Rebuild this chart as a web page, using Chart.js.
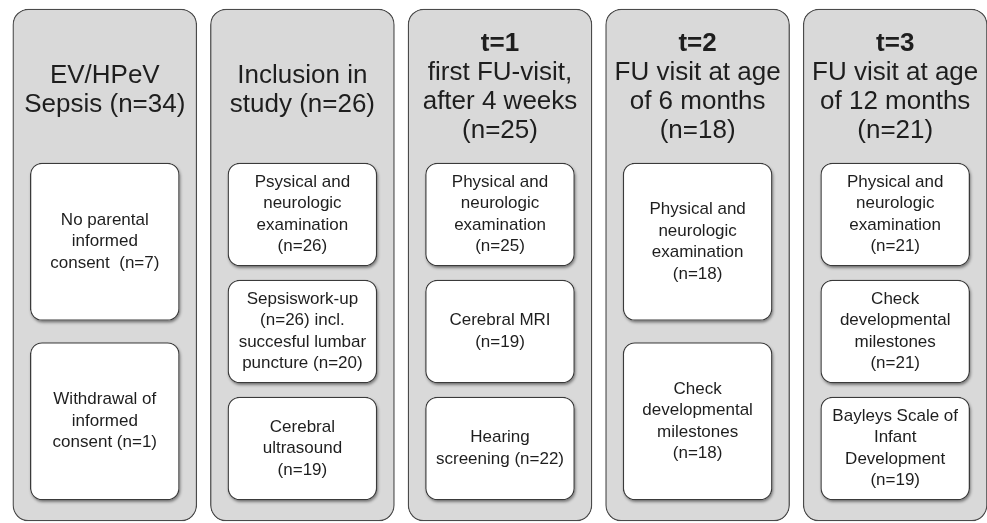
<!DOCTYPE html>
<html>
<head>
<meta charset="utf-8">
<script src="https://cdn.jsdelivr.net/npm/chart.js@4"></script>
<style>
  html, body { margin: 0; padding: 0; background: #fff; overflow: hidden; }
  #wrap { width: 994px; height: 523px; position: relative; }
</style>
</head>
<body>
<div id="wrap"><canvas id="flowChart"></canvas></div>
<script>
// stages of the study (one column each)
const stages = ['Sepsis', 'Inclusion', 't=1', 't=2', 't=3'];
const stageTitles = [null, null, 't=1', 't=2', 't=3'];
const stageHeaders = [
    ['EV/HPeV', 'Sepsis (n=34)'],
    ['Inclusion in', 'study (n=26)'],
    ['first FU-visit,', 'after 4 weeks', '(n=25)'],
    ['FU visit at age', 'of 6 months', '(n=18)'],
    ['FU visit at age', 'of 12 months', '(n=21)']
];
// boxes inside every column, top to bottom
const stageBoxes = [
    [['No parental', 'informed', 'consent  (n=7)'], ['Withdrawal of', 'informed', 'consent (n=1)']],
    [['Psysical and', 'neurologic', 'examination', '(n=26)'], ['Sepsiswork-up', '(n=26) incl.', 'succesful lumbar', 'puncture (n=20)'], ['Cerebral', 'ultrasound', '(n=19)']],
    [['Physical and', 'neurologic', 'examination', '(n=25)'], ['Cerebral MRI', '(n=19)'], ['Hearing', 'screening (n=22)']],
    [['Physical and', 'neurologic', 'examination', '(n=18)'], ['Check', 'developmental', 'milestones', '(n=18)']],
    [['Physical and', 'neurologic', 'examination', '(n=21)'], ['Check', 'developmental', 'milestones', '(n=21)'], ['Bayleys Scale of', 'Infant', 'Development', '(n=19)']]
];

const FONT = '"Liberation Sans", Arial, Helvetica, sans-serif';

// floating bar ranges (y axis runs in pixels, top = 0)
const outerRange = stages.map(() => [9, 521]);
function boxRanges(slot) {
    return stageBoxes.map(boxes => {
        if (slot >= boxes.length) return null;
        const top = 163, bottom = 500;
        const gap = boxes.length === 3 ? 14 : 22;
        const h = (bottom - top - gap * (boxes.length - 1)) / boxes.length;
        const y0 = top + slot * (h + gap);
        return [y0, y0 + h];
    });
}

const innerStyle = {
    backgroundColor: '#ffffff',
    borderColor: '#3a3a3a',
    borderWidth: 1.3,
    borderRadius: 12,
    borderSkipped: false,
    barThickness: 149,
    grouped: false
};

const textPlugin = {
    id: 'boxText',
    // soft drop shadow under the white boxes (bar border clipping hides a normal shadow)
    beforeDatasetDraw(chart, args) {
        if (!chart.data.datasets[args.index].shadow) return;
        const ctx = chart.ctx;
        ctx.save();
        ctx.shadowColor = 'rgba(0,0,0,0.45)';
        ctx.shadowBlur = 3;
        ctx.shadowOffsetX = 1;
        ctx.shadowOffsetY = 2;
        ctx.fillStyle = '#ffffff';
        args.meta.data.forEach((el, i) => {
            if (chart.data.datasets[args.index].data[i] == null) return;
            const top = Math.min(el.y, el.base);
            const h = Math.abs(el.base - el.y);
            ctx.beginPath();
            ctx.roundRect(el.x - el.width / 2, top, el.width, h, 12);
            ctx.fill();
        });
        ctx.restore();
    },
    afterDatasetsDraw(chart) {
        const ctx = chart.ctx;
        const outerMeta = chart.getDatasetMeta(3);
        ctx.save();
        ctx.fillStyle = '#1e1e1e';
        ctx.textAlign = 'center';
        ctx.textBaseline = 'middle';

        stages.forEach((s, i) => {
            const outer = outerMeta.data[i];
            const firstBox = chart.getDatasetMeta(0).data[i];
            const innerTop = Math.min(firstBox.y, firstBox.base);
            const outerTop = Math.min(outer.y, outer.base);
            const lines = stageTitles[i] ? [stageTitles[i]].concat(stageHeaders[i]) : stageHeaders[i];
            const lh = 29;
            const mid = (outerTop + innerTop) / 2 + (lines.length < 3 ? 4 : 1);
            lines.forEach((line, k) => {
                const bold = stageTitles[i] && k === 0;
                ctx.font = (bold ? 'bold ' : '') + '26px ' + FONT;
                ctx.fillText(line, outer.x, mid + (k - (lines.length - 1) / 2) * lh);
            });

            ctx.font = '17px ' + FONT;
            stageBoxes[i].forEach((boxLines, slot) => {
                const el = chart.getDatasetMeta(slot).data[i];
                const cy = (el.y + el.base) / 2;
                const blh = 21.5;
                boxLines.forEach((line, k) => {
                    ctx.fillText(line, el.x, cy + (k - (boxLines.length - 1) / 2) * blh);
                });
            });
        });
        ctx.restore();
    }
};

new Chart(document.getElementById('flowChart'), {
    type: 'bar',
    data: {
        labels: stages,
        datasets: [
            Object.assign({ label: 'box 1', data: boxRanges(0), shadow: true }, innerStyle),
            Object.assign({ label: 'box 2', data: boxRanges(1), shadow: true }, innerStyle),
            Object.assign({ label: 'box 3', data: boxRanges(2), shadow: true }, innerStyle),
            {
                label: 'stage',
                data: outerRange,
                backgroundColor: '#d9d9d9',
                borderColor: '#4a4a4a',
                borderWidth: 1.3,
                borderRadius: 16,
                borderSkipped: false,
                barThickness: 184,
                grouped: false
            }
        ]
    },
    options: {
        responsive: true,
        maintainAspectRatio: false,
        animation: false,
        layout: { padding: { left: 6, right: 0, top: 0, bottom: 0 } },
        plugins: {
            legend: { display: false },
            tooltip: { enabled: false }
        },
        scales: {
            x: { display: false },
            y: { display: false, min: 0, max: 523, reverse: true }
        }
    },
    plugins: [textPlugin]
});
</script>
</body>
</html>
